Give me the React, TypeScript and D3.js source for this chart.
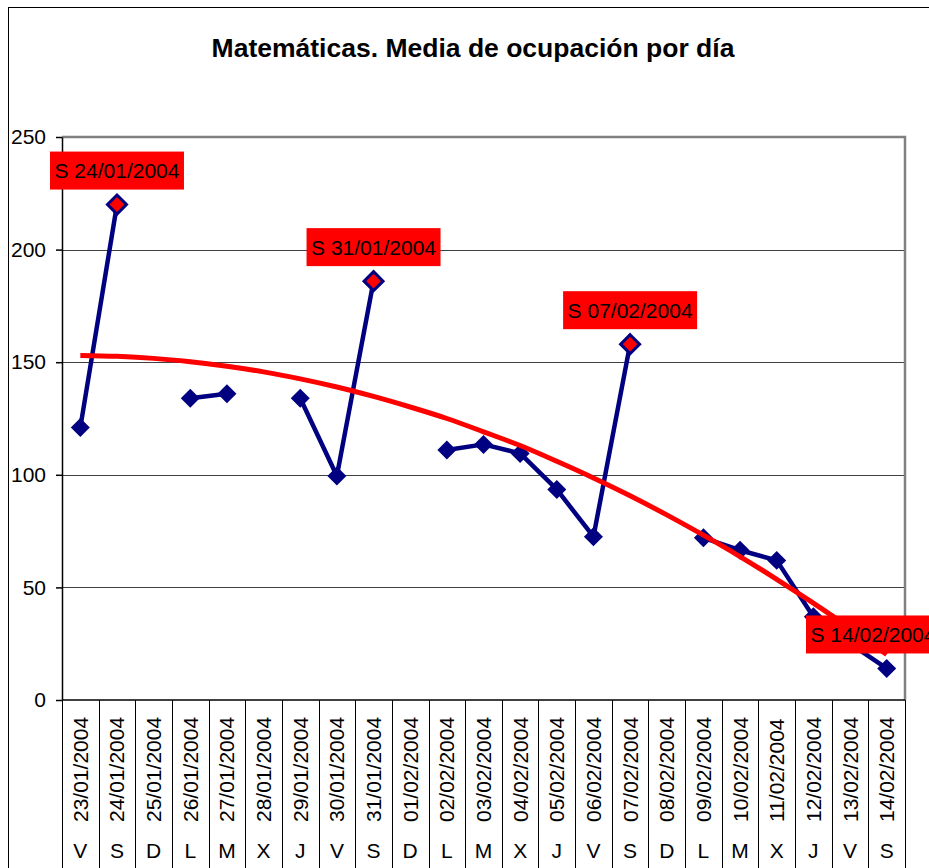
import { useEffect, useRef } from "react"
import * as d3 from "d3"

const dates = [
  "23/01/2004", "24/01/2004", "25/01/2004", "26/01/2004", "27/01/2004", "28/01/2004",
  "29/01/2004", "30/01/2004", "31/01/2004", "01/02/2004", "02/02/2004", "03/02/2004",
  "04/02/2004", "05/02/2004", "06/02/2004", "07/02/2004", "08/02/2004", "09/02/2004",
  "10/02/2004", "11/02/2004", "12/02/2004", "13/02/2004", "14/02/2004",
]
const weekdays = ["V", "S", "D", "L", "M", "X", "J", "V", "S", "D", "L", "M", "X", "J", "V", "S", "D", "L", "M", "X", "J", "V", "S"]

// media de ocupacion (null = sin dato)
const ocupacion: (number | null)[] = [
  121, 220, null, 134, 136, null, 134, 99.5, 186, null, 111, 113.5,
  109.5, 93.5, 72.5, 158, null, 72, 66.5, 62, 37, 25, 14,
]

// linea de tendencia
const tendencia = [
  153, 152.6, 151.7, 150.2, 148.2, 145.7, 142.6, 139, 134.8, 130.1, 125, 119.1,
  113, 106, 98.6, 90.7, 82.2, 73.2, 63.7, 53.6, 43, 31.9, 20.2,
]

const destacados = ["24/01/2004", "31/01/2004", "07/02/2004", "14/02/2004"]
const yTicks = [0, 50, 100, 150, 200, 250]

export default function App() {
  const svgRef = useRef<SVGSVGElement>(null)

  useEffect(() => {
    if (!svgRef.current) return
    const W = 929
    const H = 868
    const left = 62
    const right = 905
    const top = 137
    const bottom = 700
    const chartRight = 940
    const font = "'Liberation Sans', Arial, sans-serif"

    const svg = d3.select(svgRef.current)
    svg.selectAll("*").remove()
    svg.attr("width", W).attr("height", H).style("font-family", font)

    // chart area border
    svg
      .append("rect")
      .attr("x", 8.5)
      .attr("y", 7.5)
      .attr("width", W)
      .attr("height", H)
      .attr("fill", "white")
      .attr("stroke", "black")
      .attr("stroke-width", 1)

    svg
      .append("text")
      .attr("x", 473)
      .attr("y", 57)
      .attr("text-anchor", "middle")
      .style("font-size", "26.5px")
      .style("font-weight", "bold")
      .text("Matemáticas. Media de ocupación por día")

    const x = d3.scaleBand().domain(dates).range([left, right]).padding(0)
    const y = d3.scaleLinear().domain([0, 250]).range([bottom, top])
    const cx = (d: string) => (x(d) as number) + x.bandwidth() / 2

    // gridlines
    svg
      .append("g")
      .selectAll("line")
      .data(yTicks.filter((t) => t > 0 && t < 250))
      .enter()
      .append("line")
      .attr("x1", left)
      .attr("x2", right)
      .attr("y1", (d) => Math.round(y(d)) + 0.5)
      .attr("y2", (d) => Math.round(y(d)) + 0.5)
      .attr("stroke", "#404040")
      .attr("stroke-width", 1)

    // plot area border (top / right)
    svg
      .append("path")
      .attr("d", `M${left},${y(250)}H${right}V${bottom}`)
      .attr("fill", "none")
      .attr("stroke", "#808080")
      .attr("stroke-width", 2.5)

    // y axis
    const yAxis = svg
      .append("g")
      .attr("transform", `translate(${left},0)`)
      .call(d3.axisLeft(y).tickValues(yTicks).tickSize(6).tickSizeOuter(0).tickPadding(10))
    yAxis.selectAll("path,line").attr("stroke", "black").attr("stroke-width", 1.5)
    yAxis.selectAll("text").style("font-size", "21px").style("font-family", font).attr("fill", "black")

    // x axis (multi-level categories)
    svg
      .append("line")
      .attr("x1", left)
      .attr("x2", right)
      .attr("y1", bottom)
      .attr("y2", bottom)
      .attr("stroke", "black")
      .attr("stroke-width", 1.5)

    const bounds = dates.map((d) => x(d) as number).concat([right])
    svg
      .append("g")
      .selectAll("line")
      .data(bounds)
      .enter()
      .append("line")
      .attr("x1", (d) => Math.round(d) + 0.5)
      .attr("x2", (d) => Math.round(d) + 0.5)
      .attr("y1", bottom)
      .attr("y2", H)
      .attr("stroke", "black")
      .attr("stroke-width", 1)

    svg
      .append("g")
      .selectAll("text")
      .data(dates)
      .enter()
      .append("text")
      .attr("transform", (d) => `translate(${cx(d) + 7.5},822) rotate(-90)`)
      .style("font-size", "21px")
      .text((d) => d)

    svg
      .append("g")
      .selectAll("text")
      .data(dates)
      .enter()
      .append("text")
      .attr("x", (d) => cx(d))
      .attr("y", 858)
      .attr("text-anchor", "middle")
      .style("font-size", "21px")
      .text((d, i) => weekdays[i])

    // series
    const pts = dates.map((d, i) => ({ d, v: ocupacion[i] }))
    const line = d3
      .line<{ d: string; v: number | null }>()
      .defined((p) => p.v !== null)
      .x((p) => cx(p.d))
      .y((p) => y(p.v as number))

    svg
      .append("path")
      .datum(pts)
      .attr("d", line)
      .attr("fill", "none")
      .attr("stroke", "#000080")
      .attr("stroke-width", 4.5)
      .attr("stroke-linejoin", "round")

    const diamond = d3.symbol().type(d3.symbolDiamond2).size(230)
    const rojo = (d: string) => destacados.includes(d) && d !== "14/02/2004"
    svg
      .append("g")
      .selectAll("path")
      .data(pts.filter((p) => p.v !== null))
      .enter()
      .append("path")
      .attr("d", diamond)
      .attr("transform", (p) => `translate(${cx(p.d)},${y(p.v as number)})`)
      .attr("fill", (p) => (rojo(p.d) ? "#ff0000" : "#000080"))
      .attr("stroke", "#000080")
      .attr("stroke-width", (p) => (rojo(p.d) ? 3 : 0))

    // trend line
    const trend = d3
      .line<number>()
      .x((v, i) => cx(dates[i]))
      .y((v) => y(v))
      .curve(d3.curveMonotoneX)
    svg
      .append("path")
      .datum(tendencia)
      .attr("d", trend)
      .attr("fill", "none")
      .attr("stroke", "#ff0000")
      .attr("stroke-width", 5)

    // data labels
    const boxW = 134
    const boxH = 38
    const labels = svg
      .append("g")
      .selectAll("g")
      .data(pts.filter((p) => destacados.includes(p.d)))
      .enter()
      .append("g")
      .attr("transform", (p) => {
        const bx = Math.min(cx(p.d) - boxW / 2, chartRight - boxW)
        const by = y(p.v as number) - 53
        return `translate(${bx},${by})`
      })
    labels.append("rect").attr("width", boxW).attr("height", boxH).attr("fill", "#ff0000")
    labels
      .append("text")
      .attr("x", boxW / 2)
      .attr("y", boxH / 2 + 7.5)
      .attr("text-anchor", "middle")
      .style("font-size", "21px")
      .text((p) => `S ${p.d}`)
  }, [])

  return <svg ref={svgRef} style={{ position: "absolute", left: 0, top: 0, display: "block" }}></svg>
}
